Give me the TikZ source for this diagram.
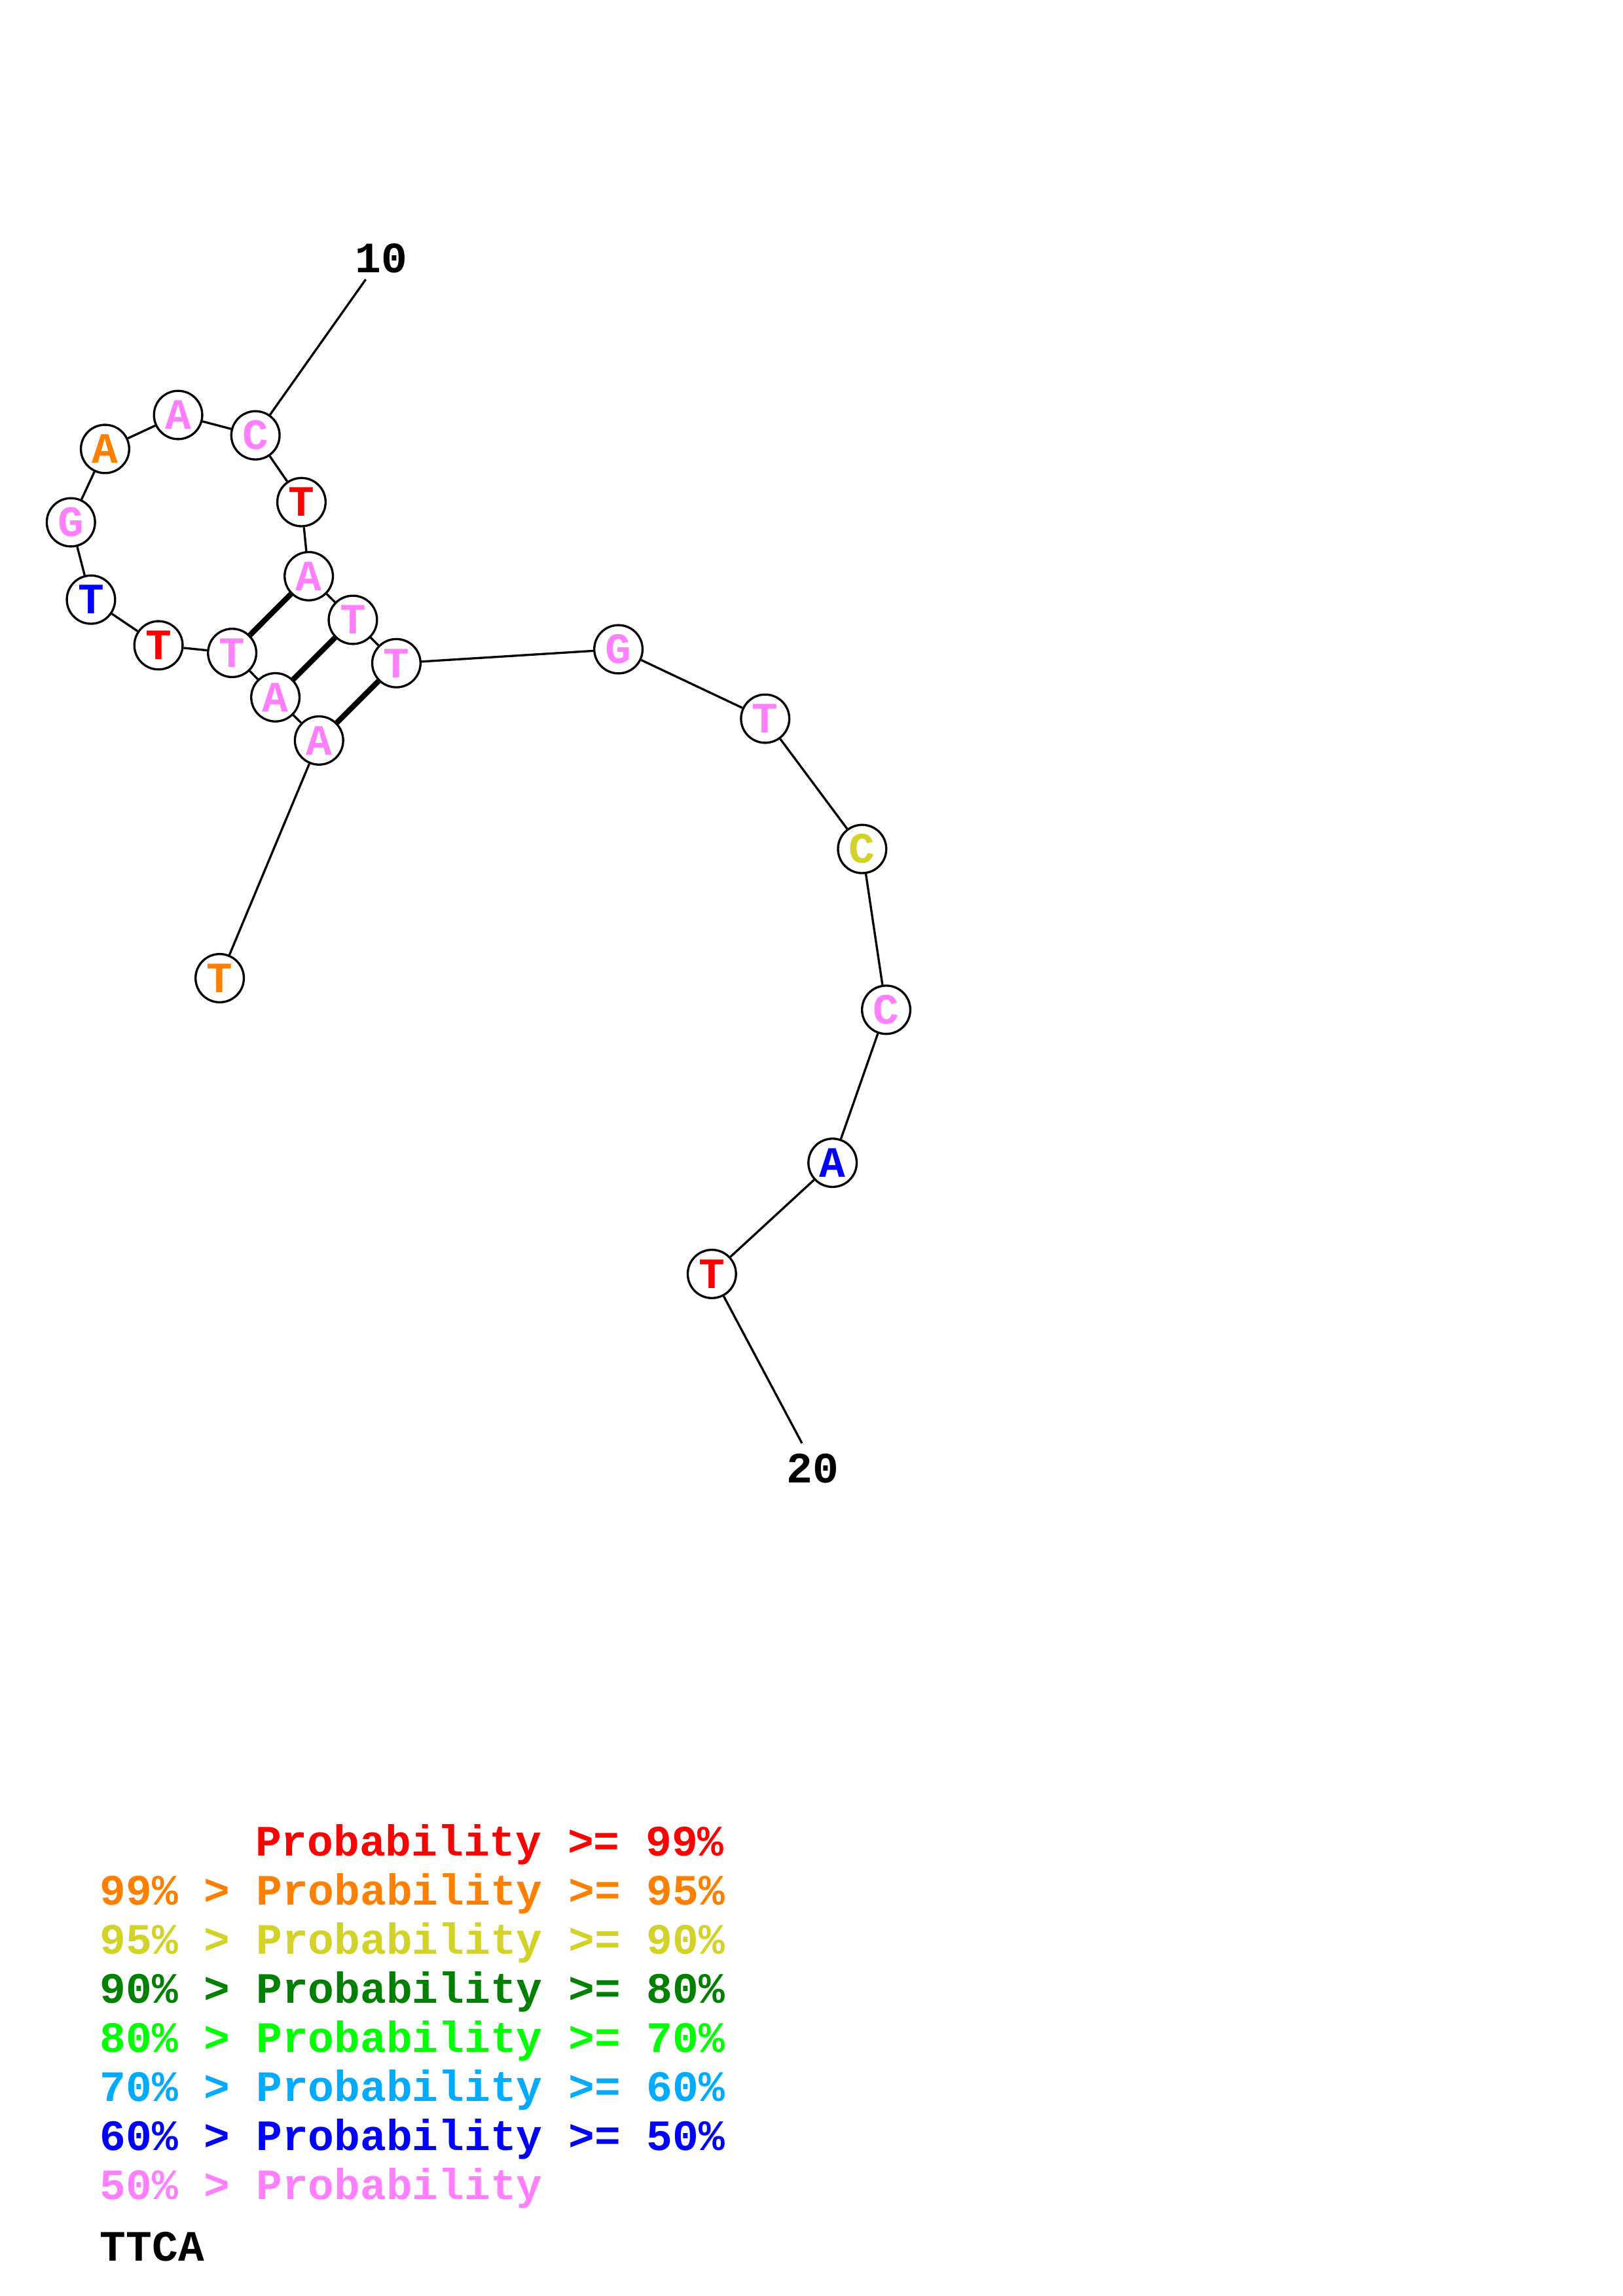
\documentclass[tikz,border=0pt]{standalone}
\usepackage{fontspec}
\setmonofont{Liberation Mono}
\definecolor{pRed}{RGB}{255,0,0}
\definecolor{pOrange}{RGB}{255,128,0}
\definecolor{pYellow}{RGB}{210,210,40}
\definecolor{pDkGreen}{RGB}{0,128,0}
\definecolor{pGreen}{RGB}{0,255,0}
\definecolor{pSky}{RGB}{0,170,255}
\definecolor{pBlue}{RGB}{0,0,255}
\definecolor{pPink}{RGB}{255,128,255}
\begin{document}
\begin{tikzpicture}[
  x=0.537pt, y=-0.537pt,
  every node/.style={font=\ttfamily\bfseries\fontsize{15.9}{16}\selectfont},
  nt/.style={circle, draw=black, line width=0.8pt, minimum size=17.7pt, inner sep=0pt, fill=white},
  bb/.style={draw, line width=0.8pt},
  bp/.style={draw, line width=2pt},
  lg/.style={anchor=base west, inner sep=0pt}
]
  \useasboundingbox (0,0) rectangle (1108,1568);
  % nucleotides
  \node[nt, text=pOrange] (n1) at (150,668) {T};
  \node[nt, text=pPink] (n2) at (217.8,505.7) {A};
  \node[nt, text=pPink] (n3) at (188,476.2) {A};
  \node[nt, text=pPink] (n4) at (158.5,445.9) {T};
  \node[nt, text=pRed] (n5) at (108.2,440.7) {T};
  \node[nt, text=pBlue] (n6) at (62.1,409.5) {T};
  \node[nt, text=pPink] (n7) at (48.4,356.7) {G};
  \node[nt, text=pOrange] (n8) at (71.7,306.6) {A};
  \node[nt, text=pPink] (n9) at (121.6,283.4) {A};
  \node[nt, text=pPink] (n10) at (174.4,297.3) {C};
  \node[nt, text=pRed] (n11) at (205.8,342.9) {T};
  \node[nt, text=pPink] (n12) at (210.8,393.5) {A};
  \node[nt, text=pPink] (n13) at (240.9,423.3) {T};
  \node[nt, text=pPink] (n14) at (270.6,452.9) {T};
  \node[nt, text=pPink] (n15) at (422.2,443.4) {G};
  \node[nt, text=pPink] (n16) at (522.4,490.8) {T};
  \node[nt, text=pYellow] (n17) at (588.6,579.8) {C};
  \node[nt, text=pPink] (n18) at (605,689.6) {C};
  \node[nt, text=pBlue] (n19) at (568.4,794.1) {A};
  \node[nt, text=pRed] (n20) at (486,870) {T};
  % position labels
  \node (lab10) at (260.3,176.2) {10};
  \node (lab20) at (554.7,1002.8) {20};
  \coordinate (tick10) at (249.7,190.8);
  \coordinate (tick20) at (547.5,985.6);
  % backbone
  \path[bb] (n1) -- (n2) -- (n3) -- (n4) -- (n5) -- (n6) -- (n7) -- (n8) -- (n9) -- (n10)
    -- (n11) -- (n12) -- (n13) -- (n14) -- (n15) -- (n16) -- (n17) -- (n18) -- (n19) -- (n20);
  \draw[line width=0.8pt] (n10) -- (tick10);
  \draw[line width=0.8pt] (n20) -- (tick20);
  % base pairs
  \path[bp] (n2) -- (n14);
  \path[bp] (n3) -- (n13);
  \path[bp] (n4) -- (n12);
  % legend
  \node[lg, text=pRed] (leg1) at (174,1267.5) {Probability >= 99\%};
  \node[lg, text=pOrange] (leg2) at (68,1301) {99\% > Probability >= 95\%};
  \node[lg, text=pYellow] (leg3) at (68,1334.5) {95\% > Probability >= 90\%};
  \node[lg, text=pDkGreen] (leg4) at (68,1368) {90\% > Probability >= 80\%};
  \node[lg, text=pGreen] (leg5) at (68,1401.5) {80\% > Probability >= 70\%};
  \node[lg, text=pSky] (leg6) at (68,1435) {70\% > Probability >= 60\%};
  \node[lg, text=pBlue] (leg7) at (68,1468.5) {60\% > Probability >= 50\%};
  \node[lg, text=pPink] (leg8) at (68,1502) {50\% > Probability};
  \node[lg] (seq) at (68,1544) {TTCA};
\end{tikzpicture}
\end{document}
